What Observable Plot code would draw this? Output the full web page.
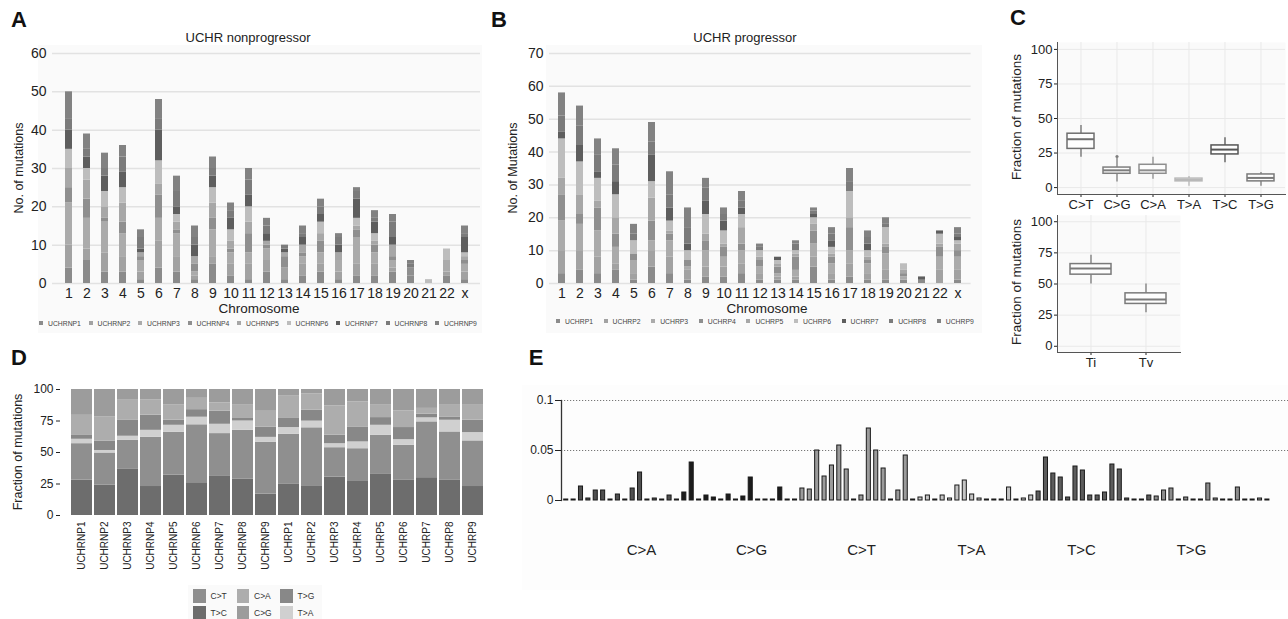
<!DOCTYPE html>
<html><head><meta charset="utf-8">
<script src="https://cdn.jsdelivr.net/npm/d3@7"></script>
<script src="https://cdn.jsdelivr.net/npm/@observablehq/plot@0.6"></script>
<style>
html,body{margin:0;padding:0;background:#fff;}
body{font-family:"Liberation Sans",Arial,Helvetica,sans-serif;color:#222;}
#root{position:relative;width:1288px;height:619px;overflow:hidden;}
#root svg{overflow:visible;}
.bg{position:absolute;}
</style></head>
<body><div id="root"></div>
<script>
// ---------------- DATA ----------------
const chromosomes = ["1","2","3","4","5","6","7","8","9","10","11","12","13","14","15","16","17","18","19","20","21","22","x"];

// Panel A: UCHR nonprogressor, mutations per chromosome per sample
const npSamples = ["UCHRNP1","UCHRNP2","UCHRNP3","UCHRNP4","UCHRNP5","UCHRNP6","UCHRNP7","UCHRNP8","UCHRNP9"];
const UCHRNP1 = [4,6,3,3,1,4,3,1,5,2,1,3,1,2,3,1,2,2,3,2,0,2,1];
const UCHRNP2 = [6,3,5,4,2,7,4,1,2,3,4,3,3,3,2,2,3,3,1,0,0,1,2];
const UCHRNP3 = [11,8,8,6,3,6,6,1,7,3,3,3,0,2,3,3,7,3,2,0,0,3,2];
const UCHRNP4 = [4,5,1,3,1,6,1,2,3,1,5,1,3,1,3,0,2,2,1,2,0,0,1];
const UCHRNP5 = [5,5,3,5,1,3,2,2,4,2,3,1,1,2,2,2,1,1,3,0,0,0,1];
const UCHRNP6 = [5,3,4,4,0,6,2,0,4,3,4,0,0,0,3,0,2,2,0,0,1,3,1];
const UCHRNP7 = [5,3,4,4,1,8,2,3,3,3,3,2,1,2,2,2,5,3,2,0,0,0,4];
const UCHRNP8 = [3,2,2,4,3,3,4,2,2,2,4,2,1,1,2,2,2,1,4,1,0,0,1];
const UCHRNP9 = [7,4,4,3,2,5,4,3,3,2,3,2,0,2,2,1,1,2,2,1,0,0,2];

// Panel B: UCHR progressor
const pSamples = ["UCHRP1","UCHRP2","UCHRP3","UCHRP4","UCHRP5","UCHRP6","UCHRP7","UCHRP8","UCHRP9"];
const UCHRP1 = [3,4,3,4,1,5,3,1,2,2,3,1,1,1,5,1,2,1,1,1,1,0,1];
const UCHRP2 = [7,6,5,2,2,5,5,3,3,3,3,2,1,1,3,2,4,2,3,0,0,4,3];
const UCHRP3 = [9,8,8,5,4,3,5,1,5,3,4,2,1,2,4,3,4,3,5,1,0,4,4];
const UCHRP4 = [8,3,7,4,2,6,2,2,3,3,2,2,2,4,4,2,7,1,2,1,0,3,2];
const UCHRP5 = [5,6,2,5,0,7,1,0,2,1,5,1,1,1,2,1,3,1,1,1,0,1,2];
const UCHRP6 = [12,10,7,7,4,5,3,3,6,4,4,2,1,1,2,2,8,2,5,2,0,3,1];
const UCHRP7 = [2,5,2,4,0,8,4,2,4,3,2,0,1,0,1,2,0,2,0,0,1,1,1];
const UCHRP8 = [5,6,5,5,2,4,4,5,4,2,2,1,0,2,1,2,3,2,1,0,0,0,1];
const UCHRP9 = [7,6,5,5,3,6,7,6,3,2,3,1,0,1,1,2,4,2,2,0,0,0,2];

// Panel C: substitution fractions (box summaries)
const subTypes  = ["C>T","C>G","C>A","T>A","T>C","T>G"];
const subLow    = [22,4,6,1,18,1];
const subQ1     = [28,10,10,4.5,24,4.5];
const subMedian = [35,12.5,12.5,5.5,27.5,7];
const subQ3     = [39,14.5,16.5,6.5,30.5,9.5];
const subHigh   = [45,21,22,8,36,11];
const subOutlierType  = ["C>G"];
const subOutlierValue = [22.5];
const titvTypes  = ["Ti","Tv"];
const titvLow    = [50,27];
const titvQ1     = [57.5,34];
const titvMedian = [62.5,37.5];
const titvQ3     = [66,42.5];
const titvHigh   = [73,50];

// Panel D: fraction of mutations per sample
const dSamples = ["UCHRNP1","UCHRNP2","UCHRNP3","UCHRNP4","UCHRNP5","UCHRNP6","UCHRNP7","UCHRNP8","UCHRNP9","UCHRP1","UCHRP2","UCHRP3","UCHRP4","UCHRP5","UCHRP6","UCHRP7","UCHRP8","UCHRP9"];
const fracTC = [28,24,36.6,23,32,26,31,29,17,24.7,23.6,30.5,27,32.6,27.9,30,27.9,23];
const fracCT = [29,25.6,23,39,34,46,34,38.6,41,39.8,46,23.3,26,31.1,27.8,44.3,38.4,36.2];
const fracTA = [3.5,2,3.3,5.6,5.6,6,7.4,7.4,4,5.3,5.3,3.2,5.4,7.9,4.5,3.2,9.3,6.6];
const fracTG = [3.5,7.5,12.6,12,4,6,10.4,2,8,7.7,8.8,6.7,11.9,6.1,9.6,2.9,2.6,9.8];
const fracCA = [15.5,19,16,12,12,9,6.6,11,12.7,17.2,12.7,23.3,19.9,10.3,13.2,4.6,9.3,11.9];
const fracCG = [20.5,21.9,8.5,8.4,12.4,7,10.6,12,17.3,5.3,3.6,13,9.8,12,17,15,12.5,12.5];

// Panel E: 96 trinucleotide contexts, 16 per substitution class
const ctxGroups = ["C>A","C>G","C>T","T>A","T>C","T>G"];
const ctxCA = [0.001,0.001,0.014,0.002,0.010,0.010,0.001,0.006,0.001,0.012,0.028,0.001,0.002,0.001,0.005,0.001];
const ctxCG = [0.008,0.038,0.001,0.005,0.003,0.001,0.006,0.001,0.004,0.023,0.001,0.001,0.001,0.013,0.001,0.001];
const ctxCT = [0.012,0.011,0.050,0.024,0.035,0.055,0.031,0.001,0.005,0.072,0.050,0.032,0.001,0.010,0.045,0.001];
const ctxTA = [0.003,0.005,0.001,0.005,0.002,0.015,0.020,0.006,0.002,0.001,0.001,0.001,0.013,0.001,0.002,0.005];
const ctxTC = [0.009,0.043,0.027,0.023,0.003,0.034,0.030,0.005,0.005,0.008,0.036,0.031,0.002,0.001,0.001,0.005];
const ctxTG = [0.004,0.010,0.012,0.001,0.003,0.001,0.001,0.017,0.002,0.001,0.001,0.013,0.001,0.001,0.002,0.001];

// ---------------- STYLE ----------------
const FONT = '"Liberation Sans", Arial, Helvetica, sans-serif';
const NARROW = '"Liberation Sans Narrow", "Liberation Sans", Arial, sans-serif';
const sampleColors = ["#8b8b8b","#a2a2a2","#ababab","#8f8f8f","#a7a7a7","#bdbdbd","#5e5e5e","#7b7b7b","#828282"];
const subStroke = ["#6e6e6e","#7e7e7e","#8e8e8e","#b8b8b8","#555555","#7a7a7a"];
const dTypes = ["C>T","T>C","C>A","C>G","T>G","T>A"];
const dColors = ["#8f8f8f","#6d6d6d","#adadad","#9c9c9c","#888888","#d0d0d0"];
const ctxColors = ["#505050","#1c1c1c","#9b9b9b","#c4c4c4","#5c5c5c","#8c8c8c"];

const root = document.getElementById("root");
function put(node, x, y) {
  node.style.position = "absolute"; node.style.left = x + "px"; node.style.top = y + "px";
  root.appendChild(node); return node;
}
function txt(t, cx, cy, size, o = {}) {
  const d = document.createElement("div");
  d.textContent = t;
  d.style.cssText = `position:absolute;left:${cx}px;top:${cy}px;font-size:${size}px;line-height:1;white-space:nowrap;` +
    `transform:translate(-50%,-50%)${o.rotate ? " rotate(-90deg)" : ""};font-weight:${o.bold ? "bold" : "normal"};` +
    `color:${o.color || "#222"};font-family:${o.family || FONT};`;
  root.appendChild(d); return d;
}
function bg(x, y, w, h, c) {
  const d = document.createElement("div"); d.className = "bg";
  d.style.cssText += `left:${x}px;top:${y}px;width:${w}px;height:${h}px;background:${c};`;
  root.appendChild(d);
}

// backgrounds
bg(38, 45, 444, 288, "#fafafa");
bg(546, 45, 436, 288, "#fafafa");
bg(522, 385, 766, 205, "#fdfdfd");

// ---------------- A & B ----------------
function stacked(samples, series, ymax, w, mL, mR, pi, po) {
  const data = [];
  samples.forEach((s, j) => series[j].forEach((v, i) => data.push({chr: chromosomes[i], sample: s, n: v})));
  return Plot.plot({
    width: w, height: 300, marginTop: 23, marginBottom: 47, marginLeft: mL, marginRight: mR,
    style: {background: "transparent", fontFamily: FONT, fontSize: "14px", color: "#222"},
    x: {type: "band", domain: chromosomes, paddingInner: pi, paddingOuter: po, label: null, tickSize: 0, tickPadding: 5},
    y: {domain: [0, ymax], ticks: d3.range(0, ymax + 1, 10), label: null, tickSize: 0, tickPadding: 6},
    color: {domain: samples, range: sampleColors},
    marks: [
      Plot.gridY(d3.range(0, ymax + 1, 10), {stroke: "#e2e2e2", strokeOpacity: 1, strokeWidth: 1.5}),
      Plot.barY(data, {x: "chr", y: "n", fill: "sample"})
    ]
  });
}
put(stacked(npSamples, [UCHRNP1,UCHRNP2,UCHRNP3,UCHRNP4,UCHRNP5,UCHRNP6,UCHRNP7,UCHRNP8,UCHRNP9], 60, 490, 52, 10, 0.62, 0.35), 0, 30);
put(stacked(pSamples, [UCHRP1,UCHRP2,UCHRP3,UCHRP4,UCHRP5,UCHRP6,UCHRP7,UCHRP8,UCHRP9], 70, 490, 59, 9.4, 0.6, 0.28), 490, 30);

txt("A", 19, 20, 22, {bold: true, color: "#111"});
txt("B", 499, 20, 22, {bold: true, color: "#111"});
txt("UCHR nonprogressor", 248, 37, 13);
txt("UCHR progressor", 745, 37, 13);
txt("No. of mutations", 19, 168, 12.5, {rotate: true});
txt("No. of Mutations", 513, 168, 12.5, {rotate: true});
txt("Chromosome", 259, 309, 13.5);
txt("Chromosome", 767, 309, 13.5);

function sampleLegend(samples, x0, step, y) {
  samples.forEach((s, i) => {
    const d = document.createElement("div");
    d.style.cssText = `position:absolute;left:${x0 + i * step}px;top:${y - 4}px;font-size:6.8px;line-height:8px;white-space:nowrap;color:#444;font-family:${FONT};`;
    d.innerHTML = `<span style="display:inline-block;width:4px;height:4px;background:${sampleColors[i]};margin-right:5px;vertical-align:1px"></span>${s}`;
    root.appendChild(d);
  });
}
sampleLegend(npSamples, 39, 49.5, 324);
sampleLegend(pSamples, 556, 47.6, 322);

// ---------------- C ----------------
function boxes(cats, lo, q1, med, q3, hi, strokes, opt) {
  const data = cats.map((c, i) => ({c, lo: lo[i], q1: q1[i], med: med[i], q3: q3[i], hi: hi[i]}));
  const marks = [
    Plot.frame({fill: "#fafafa", stroke: null}),
    Plot.gridY([0, 25, 50, 75, 100], {stroke: "#e9e9e9", strokeOpacity: 1}),
    Plot.gridX(cats, {stroke: "#e9e9e9", strokeOpacity: 1}),
    Plot.ruleX(data, {x: "c", y1: "lo", y2: "q1", stroke: "c", strokeWidth: 1.3}),
    Plot.ruleX(data, {x: "c", y1: "q3", y2: "hi", stroke: "c", strokeWidth: 1.3}),
    Plot.barY(data, {x: "c", y1: "q1", y2: "q3", fill: "#fdfdfd", stroke: "c", strokeWidth: 1.5}),
    Plot.tickY(data, {x: "c", y: "med", stroke: "c", strokeWidth: 2}),
    Plot.axisY({ticks: [0, 25, 50, 75, 100], tickSize: 3, tickPadding: 2, label: null, fontSize: 13}),
    Plot.axisX({tickSize: 3, tickPadding: 2, label: null, fontSize: 13}),
    Plot.frame({anchor: "left", stroke: "#555"}),
    Plot.frame({anchor: "bottom", stroke: "#555"})
  ];
  if (opt.outliers) marks.push(Plot.dot(opt.outliers, {x: "c", y: "v", r: 1.6, fill: "c", stroke: null}));
  return Plot.plot({
    width: opt.w, height: opt.h, marginTop: opt.mt, marginBottom: opt.mb, marginLeft: 57, marginRight: opt.mr,
    style: {background: "transparent", fontFamily: FONT, fontSize: "13px", color: "#222"},
    x: {type: "band", domain: cats, paddingInner: opt.pi, paddingOuter: opt.po},
    y: {domain: [-5, 105]},
    color: {domain: cats, range: strokes},
    marks
  });
}
const outl = subOutlierType.map((c, i) => ({c, v: subOutlierValue[i]}));
put(boxes(subTypes, subLow, subQ1, subMedian, subQ3, subHigh, subStroke,
  {w: 288, h: 190, mt: 12, mb: 26, mr: 3, pi: 0.24, po: 0.22, outliers: outl}), 1000, 30);
put(boxes(titvTypes, titvLow, titvQ1, titvMedian, titvQ3, titvHigh, ["#7a7a7a", "#7a7a7a"],
  {w: 185, h: 175, mt: 10, mb: 28, mr: 5, pi: 0.25, po: 0.225}), 1000, 205);
txt("C", 1018, 18, 22, {bold: true, color: "#111"});
txt("Fraction of mutations", 1017, 117, 13.5, {rotate: true});
txt("Fraction of mutations", 1017, 282, 13.5, {rotate: true});

// ---------------- D ----------------
const dSeries = {"T>C": fracTC, "C>T": fracCT, "T>A": fracTA, "T>G": fracTG, "C>A": fracCA, "C>G": fracCG};
const dStackOrder = ["T>C","C>T","T>A","T>G","C>A","C>G"];
const dData = [];
dStackOrder.forEach(t => dSeries[t].forEach((v, i) => dData.push({s: dSamples[i], t, v})));
put(Plot.plot({
  width: 500, height: 200, marginTop: 14, marginBottom: 60, marginLeft: 60, marginRight: 5.7,
  style: {background: "transparent", fontFamily: FONT, fontSize: "12px", color: "#222"},
  x: {type: "band", domain: dSamples, paddingInner: 0.1, paddingOuter: 0.15, label: null, tickSize: 0, tickPadding: 6, tickRotate: -90},
  y: {domain: [0, 100], ticks: [0, 25, 50, 75, 100], label: null, tickSize: 4, tickPadding: 3},
  color: {domain: dTypes, range: dColors},
  marks: [
    Plot.barY(dData, {x: "s", y: "v", fill: "t", order: dStackOrder}),
    Plot.axisX({tickSize: 0, tickPadding: 6, tickRotate: -90, fontSize: 10, label: null}),
    Plot.axisY({ticks: [0, 25, 50, 75, 100], tickSize: 4, tickPadding: 3, fontSize: 12, label: null})
  ]
}), 0, 375);
txt("D", 19, 358, 22, {bold: true, color: "#111"});
txt("Fraction of mutations", 18, 452, 12.5, {rotate: true});
// D legend
bg(188, 585, 134, 34, "#fafafa");
dTypes.forEach((t, i) => {
  const col = Math.floor(i / 2), row = i % 2;
  const d = document.createElement("div");
  d.style.cssText = `position:absolute;left:${193 + col * 43.5}px;top:${589 + row * 17}px;font-size:8.5px;line-height:14px;white-space:nowrap;color:#333;font-family:${FONT};`;
  d.innerHTML = `<span style="display:inline-block;width:12.5px;height:14px;background:${dColors[i]};margin-right:5px;vertical-align:top"></span>${t}`;
  root.appendChild(d);
});

// ---------------- E ----------------
const ctxSeries = [ctxCA, ctxCG, ctxCT, ctxTA, ctxTC, ctxTG];
const eData = [];
ctxGroups.forEach((g, gi) => ctxSeries[gi].forEach((v, k) => eData.push({i: gi * 16 + k, g, v})));
put(Plot.plot({
  width: 768, height: 130, marginTop: 10, marginBottom: 20, marginLeft: 41, marginRight: 0,
  style: {background: "transparent", fontFamily: FONT, fontSize: "12px", color: "#222"},
  x: {type: "band", domain: d3.range(96), paddingInner: 0.45, paddingOuter: 1.475, align: 0.124, axis: null},
  y: {domain: [0, 0.1]},
  color: {domain: ctxGroups, range: ctxColors},
  marks: [
    Plot.ruleY([0.05, 0.1], {stroke: "#777", strokeDasharray: "1.2,1.8", strokeWidth: 1}),
    Plot.barY(eData, {x: "i", y: "v", fill: "g", stroke: "#1a1a1a", strokeWidth: 1}),
    Plot.axisY({ticks: [0, 0.05, 0.1], tickFormat: d => String(d), tickSize: 6, tickPadding: 2, label: null, fontSize: 12, fontFamily: NARROW}),
    Plot.frame({anchor: "left", stroke: "#333", strokeWidth: 1.3})
  ]
}), 520, 390);
put(Plot.plot({
  width: 768, height: 30, marginTop: 0, marginBottom: 0, marginLeft: 66, marginRight: 42,
  style: {background: "transparent", fontFamily: NARROW, fontSize: "15px", color: "#222"},
  x: {type: "band", domain: ctxGroups, padding: 0, axis: null},
  marks: [Plot.text(ctxGroups, {x: d => d, frameAnchor: "middle", fontSize: 15, fill: "#222"})]
}), 520, 535);
txt("E", 536, 358, 22, {bold: true, color: "#111"});
</script></body></html>
